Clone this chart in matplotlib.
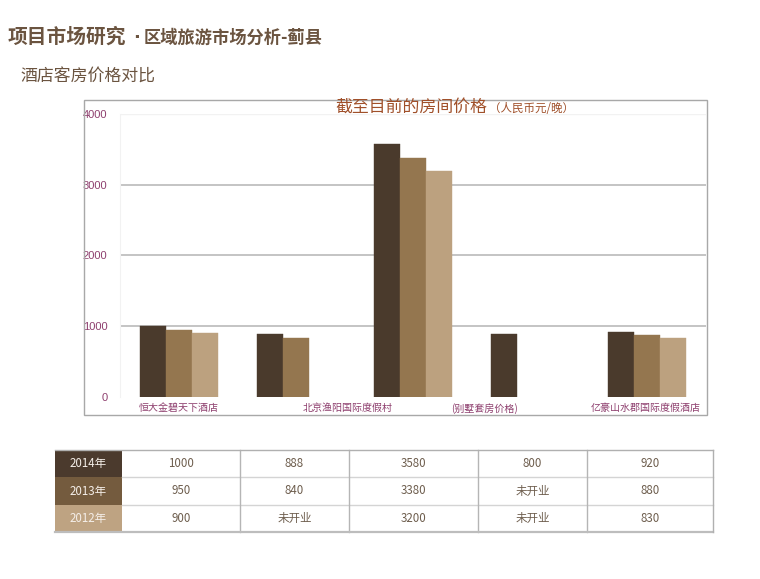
import matplotlib
matplotlib.use("Agg")
import matplotlib.pyplot as plt
from matplotlib.patches import Rectangle
import numpy as np

plt.rcParams['font.family'] = ['Noto Sans CJK SC', 'DejaVu Sans']

# ---------------- data ----------------
hotels = ["恒大金碧天下酒店", "北京渔阳国际度假村", "", "(别墅套房价格)", "亿豪山水郡国际度假酒店"]
years = ["2014年", "2013年", "2012年"]
price_2014 = [1000, 888, 3580, 888, 920]
price_2013 = [950, 840, 3380, np.nan, 880]
price_2012 = [900, np.nan, 3200, np.nan, 830]
yticks = [0, 1000, 2000, 3000, 4000]

table_rows = [
    ["1000", "888", "3580", "800", "920"],
    ["950", "840", "3380", "未开业", "880"],
    ["900", "未开业", "3200", "未开业", "830"],
]

bar_colors = ["#4a3a2c", "#94764f", "#bca17f"]
head_colors = ["#4b3a2d", "#745b3e", "#bea382"]
label_pos = [0.0, 1.44, None, 2.61, 3.99]

W, H = 760, 579
fig = plt.figure(figsize=(W / 100, H / 100), dpi=100)
fig.patch.set_facecolor("white")

def fx(px):
    return px / W

def fy(py):
    return 1 - py / H

# headings
fig.text(fx(8), fy(37), "项目市场研究", fontsize=14.2,
         fontweight="bold", color="#6b5440", va="center", ha="left")
fig.text(fx(137), fy(38), "·", fontsize=13, family=["DejaVu Sans"],
         fontweight="bold", color="#6b5440", va="center", ha="center")
fig.text(fx(144), fy(37.5), "区域旅游市场分析-蓟县", fontsize=12.4,
         fontweight="bold", color="#6b5440", va="center", ha="left")
fig.text(fx(20), fy(77), "酒店客房价格对比", fontsize=12.2,
         color="#6b5440", va="center", ha="left")

# outer chart frame
fig.patches.append(Rectangle((fx(84), fy(415)), fx(707) - fx(84), fy(100) - fy(415),
                             transform=fig.transFigure, fill=False,
                             edgecolor="#a8a8a8", lw=1.0, zorder=0))

# chart axes
ax = fig.add_axes([fx(120), fy(397), fx(706) - fx(120), fy(114) - fy(397)])
ax.set_facecolor("white")
x = np.arange(len(hotels))
w = 0.222
for i, vals in enumerate([price_2014, price_2013, price_2012]):
    ax.bar(x + (i - 1) * w, vals, width=w, color=bar_colors[i], zorder=3,
           edgecolor=bar_colors[i], linewidth=0.3)

ax.set_xlim(-0.5, len(hotels) - 0.5)
ax.set_ylim(0, 4000)
ax.set_yticks(yticks)
ax.set_yticklabels([str(v) for v in yticks], fontsize=8, color="#8e3f6e",
                   family=['Liberation Sans', 'DejaVu Sans'])
ax.tick_params(axis="y", length=0, pad=9)
ax.set_xticks([])
for v in yticks[1:-1]:
    ax.axhline(v, color="#c4c4c4", lw=1.4, zorder=1)
ax.axhline(4000, color="#f2f2f2", lw=1.0, zorder=1)
for s in ["top", "right", "bottom"]:
    ax.spines[s].set_visible(False)
ax.spines["left"].set_color("#f2f2f2")

for name, pos in zip(hotels, label_pos):
    if name and pos is not None:
        ax.text(pos, -160, name, fontsize=7.2, color="#8e3f6e", ha="center",
                va="center", transform=ax.transData, clip_on=False)

fig.text(fx(335), fy(107), "截至目前的房间价格", fontsize=12.2, color="#a0502a",
         ha="left", va="center")
fig.text(fx(489), fy(108), "（人民币元/晚）", fontsize=8.3, color="#a0502a",
         ha="left", va="center")

# ---------------- table ----------------
col_edges = [55, 122, 240, 349, 478, 587, 713]
row_edges = [450, 477, 505, 532]
tab = fig.add_axes([0, 0, 1, 1])
tab.set_xlim(0, W)
tab.set_ylim(H, 0)
tab.axis("off")

for r in range(3):
    y0, y1 = row_edges[r], row_edges[r + 1]
    tab.add_patch(Rectangle((col_edges[0], y0), col_edges[1] - col_edges[0], y1 - y0,
                            facecolor=head_colors[r], edgecolor="none"))
    tab.text((col_edges[0] + col_edges[1]) / 2, (y0 + y1) / 2, years[r], fontsize=8.3,
             color="#f4eee8", ha="center", va="center")
    for c in range(5):
        xa, xb = col_edges[c + 1], col_edges[c + 2]
        tab.text((xa + xb) / 2, (y0 + y1) / 2, table_rows[r][c], fontsize=8.3,
                 color="#6e5e4e", ha="center", va="center")

# grid lines
for yy in row_edges[1:-1]:
    tab.plot([col_edges[1], col_edges[-1]], [yy, yy], color="#d4d4d4", lw=1.0)
for xx in col_edges[2:-1]:
    tab.plot([xx, xx], [row_edges[0], row_edges[-1]], color="#b5b5b5", lw=1.0)
tab.plot([col_edges[0], col_edges[-1]], [row_edges[0], row_edges[0]], color="#b0b0b0", lw=1.0)
tab.plot([col_edges[0], col_edges[-1]], [row_edges[-1], row_edges[-1]], color="#bdbdbd", lw=1.6)
tab.plot([col_edges[-1], col_edges[-1]], [row_edges[0], row_edges[-1]], color="#b0b0b0", lw=1.0)

fig.savefig("out.png", dpi=100, facecolor="white")
